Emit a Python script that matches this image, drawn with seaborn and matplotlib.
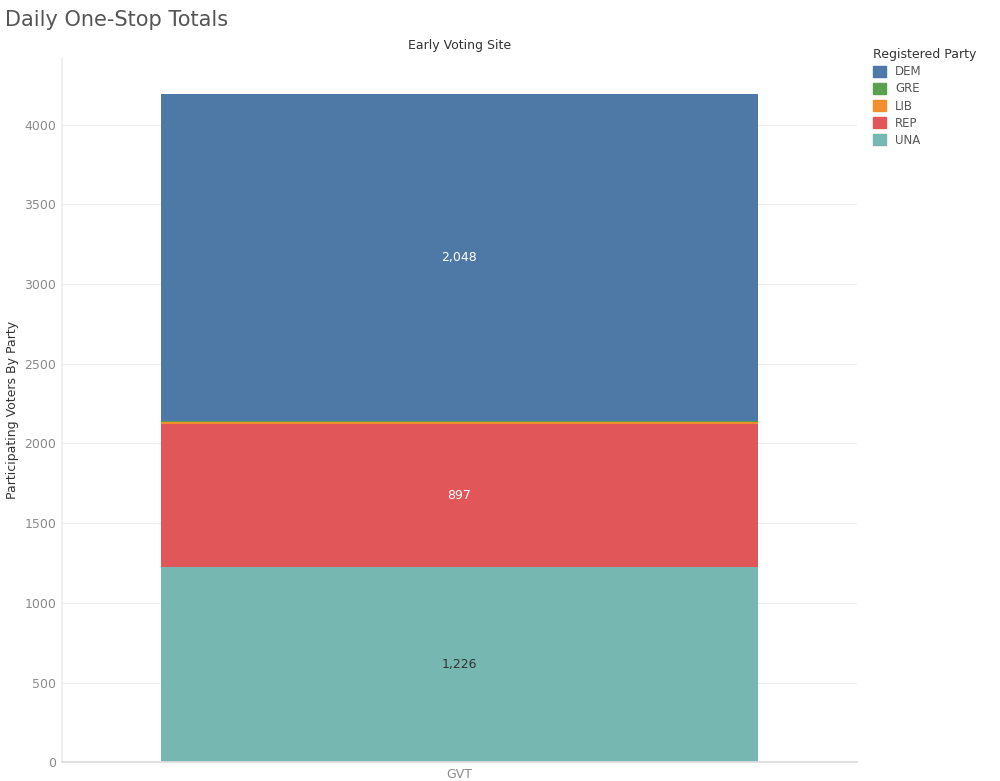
import matplotlib
matplotlib.use("Agg")
import matplotlib.pyplot as plt
import matplotlib.patches as mpatches
import seaborn as sns
import pandas as pd

site = ["GVT"]
parties = ["DEM", "GRE", "LIB", "REP", "UNA"]
counts = [2048, 4, 15, 897, 1226]
colors = ["#4e79a7", "#59a14f", "#f28e2b", "#e15759", "#76b7b2"]

# stack order from bottom: UNA, REP, LIB, GRE, DEM
stack_order = ["UNA", "REP", "LIB", "GRE", "DEM"]
df = pd.DataFrame({"party": parties, "count": counts, "color": colors}).set_index("party").loc[stack_order]
df["top"] = df["count"].cumsum()
df["bottom"] = df["top"] - df["count"]
df["site"] = site[0]

sns.set_theme(style="white")
fig = plt.figure(figsize=(10, 7.81), dpi=100)
ax = fig.add_axes([0.062, 0.024, 0.795, 0.902])

# draw cumulative totals, tallest first so lower layers paint on top
for party in reversed(stack_order):
    row = df.loc[[party]]
    sns.barplot(data=row, x="site", y="top", color=row["color"].iloc[0],
                width=0.75, saturation=1, ax=ax, edgecolor="none")

for party in ["DEM", "REP", "UNA"]:
    r = df.loc[party]
    mid = (r["bottom"] + r["top"]) / 2
    ax.text(0, mid, f"{r['count']:,}", ha="center", va="center", fontsize=9,
            color="#333333" if party == "UNA" else "white")

ax.set_xlim(-0.5, 0.5)
ax.set_ylim(0, 4420)
ax.set_yticks(range(0, 4001, 500))
ax.tick_params(axis="both", labelsize=9, colors="#8a8a8a", length=0, pad=4)
ax.yaxis.grid(True, color="#eeeeee", linewidth=0.8)
ax.set_axisbelow(True)
for s in ["top", "right"]:
    ax.spines[s].set_visible(False)
ax.spines["left"].set_color("#eeeeee")
ax.spines["bottom"].set_color("#dddddd")
ax.set_xlabel("")
ax.set_ylabel("Participating Voters By Party", fontsize=9, color="#333333")
ax.set_title("Early Voting Site", fontsize=9, color="#333333", pad=6)

fig.text(0.005, 0.975, "Daily One-Stop Totals", fontsize=15, color="#555555",
         va="center", ha="left")

handles = [mpatches.Patch(color=c, label=p) for p, c in zip(parties, colors)]
leg = fig.legend(handles=handles, title="Registered Party", loc="upper left",
                 bbox_to_anchor=(0.862, 0.952), frameon=False, fontsize=8.5,
                 title_fontsize=9, handlelength=1.1, handleheight=1.1,
                 labelspacing=0.35, labelcolor="#555555")
leg._legend_box.align = "left"
leg.get_title().set_color("#333333")

fig.savefig("out.png", dpi=100)
